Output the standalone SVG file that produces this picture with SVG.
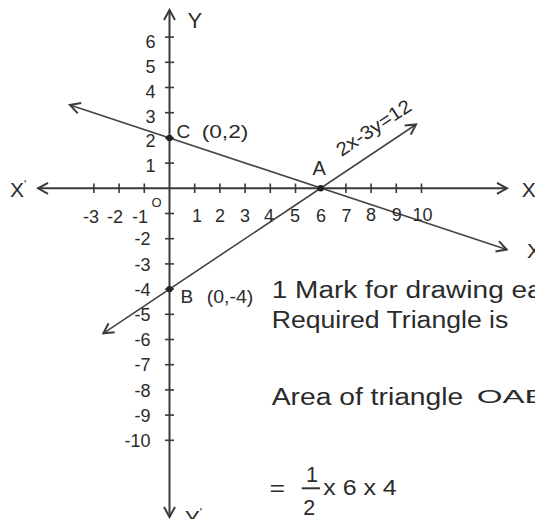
<svg xmlns="http://www.w3.org/2000/svg" width="535" height="519" viewBox="0 0 535 519">
<style>
text{font-family:"Liberation Sans",Arial,sans-serif;fill:#2b2b2b}
.n{font-size:18px}
.yp{text-anchor:end}
.xl{text-anchor:middle}
.big{font-size:23.5px}
.ax{stroke:#3a3a3a;stroke-width:2;fill:none}
.tk{stroke:#3a3a3a;stroke-width:1.6}
.ln{stroke:#444;stroke-width:1.6;fill:none}
</style>
<defs>
<marker id="arr" viewBox="-12 -8 14 16" markerWidth="14" markerHeight="16" refX="0" refY="0" orient="auto-start-reverse" markerUnits="userSpaceOnUse">
<path d="M-10,-5.5 L0,0 L-10,5.5" fill="none" stroke="#3a3a3a" stroke-width="2"/>
</marker>
</defs>
<rect width="535" height="519" fill="#fff"/>

<g id="connectors">
<line class="ax" x1="38" y1="188.3" x2="507" y2="188.3" marker-start="url(#arr)" marker-end="url(#arr)"/>
<line class="ax" x1="169.5" y1="10" x2="169.5" y2="517" marker-start="url(#arr)" marker-end="url(#arr)"/>
<line class="ln" x1="70" y1="105" x2="506.7" y2="249.5" marker-start="url(#arr)" marker-end="url(#arr)"/>
<line class="ln" x1="103.3" y1="333.3" x2="416" y2="124.5" marker-start="url(#arr)" marker-end="url(#arr)"/>
</g>

<g id="ticks">
<g class="tk">
<line x1="165" y1="37.1" x2="174" y2="37.1"/>
<line x1="165" y1="62.3" x2="174" y2="62.3"/>
<line x1="165" y1="87.5" x2="174" y2="87.5"/>
<line x1="165" y1="112.7" x2="174" y2="112.7"/>
<line x1="165" y1="137.9" x2="174" y2="137.9"/>
<line x1="165" y1="163.1" x2="174" y2="163.1"/>
<line x1="165" y1="213.5" x2="174" y2="213.5"/>
<line x1="165" y1="238.7" x2="174" y2="238.7"/>
<line x1="165" y1="263.9" x2="174" y2="263.9"/>
<line x1="165" y1="289.1" x2="174" y2="289.1"/>
<line x1="165" y1="314.3" x2="174" y2="314.3"/>
<line x1="165" y1="339.5" x2="174" y2="339.5"/>
<line x1="165" y1="364.7" x2="174" y2="364.7"/>
<line x1="165" y1="389.9" x2="174" y2="389.9"/>
<line x1="165" y1="415.1" x2="174" y2="415.1"/>
<line x1="165" y1="440.3" x2="174" y2="440.3"/>
<line x1="93.9" y1="183.5" x2="93.9" y2="193"/>
<line x1="119.1" y1="183.5" x2="119.1" y2="193"/>
<line x1="144.3" y1="183.5" x2="144.3" y2="193"/>
<line x1="194.7" y1="183.5" x2="194.7" y2="193"/>
<line x1="219.9" y1="183.5" x2="219.9" y2="193"/>
<line x1="245.1" y1="183.5" x2="245.1" y2="193"/>
<line x1="270.3" y1="183.5" x2="270.3" y2="193"/>
<line x1="295.5" y1="183.5" x2="295.5" y2="193"/>
<line x1="345.9" y1="183.5" x2="345.9" y2="193"/>
<line x1="371.1" y1="183.5" x2="371.1" y2="193"/>
<line x1="396.3" y1="183.5" x2="396.3" y2="193"/>
<line x1="421.5" y1="183.5" x2="421.5" y2="193"/>
</g>
</g>

<g id="y-labels" class="n">
<text class="yp" x="155.5" y="47.5">6</text>
<text class="yp" x="155.5" y="72.5">5</text>
<text class="yp" x="155.5" y="97.8">4</text>
<text class="yp" x="155.5" y="122.7">3</text>
<text class="yp" x="155.5" y="147.2">2</text>
<text class="yp" x="155.5" y="172">1</text>
<text class="yp" x="150.5" y="245.4">-2</text>
<text class="yp" x="150.5" y="270.6">-3</text>
<text class="yp" x="150.5" y="295.8">-4</text>
<text class="yp" x="150.5" y="321">-5</text>
<text class="yp" x="150.5" y="346.2">-6</text>
<text class="yp" x="150.5" y="371.4">-7</text>
<text class="yp" x="150.5" y="396.6">-8</text>
<text class="yp" x="150.5" y="421.8">-9</text>
<text class="yp" x="150.5" y="447">-10</text>
</g>

<g id="x-labels" class="n">
<text class="xl" x="91" y="222.7">-3</text>
<text class="xl" x="115" y="222.7">-2</text>
<text class="xl" x="140" y="222.7">-1</text>
<text class="xl" x="197" y="222">1</text>
<text class="xl" x="220" y="222">2</text>
<text class="xl" x="245" y="222">3</text>
<text class="xl" x="269" y="222">4</text>
<text class="xl" x="295" y="222">5</text>
<text class="xl" x="321" y="222">6</text>
<text class="xl" x="346.5" y="222">7</text>
<text class="xl" x="371" y="221">8</text>
<text class="xl" x="396.7" y="221">9</text>
<text class="xl" x="422.5" y="221">10</text>
<text x="151.5" y="206.5" style="font-size:13px">O</text>
</g>

<g id="axis-names" style="font-size:21px">
<text x="10" y="196.7">X<tspan style="font-size:12px" dy="-8">'</tspan></text>
<text x="521.7" y="196.7">X</text>
<text x="187.5" y="28.3" style="font-size:22px">Y</text>
<text x="185" y="526" style="font-size:22px">Y<tspan style="font-size:12px" dy="-9">'</tspan></text>
<text x="527" y="258">X</text>
</g>

<g id="point-C">
<circle cx="169.5" cy="137.9" r="3.2" fill="#222"/>
<text x="176.5" y="138.3" style="font-size:19px">C</text>
<text x="201.7" y="138.3" style="font-size:19px" textLength="46.6" lengthAdjust="spacingAndGlyphs">(0,2)</text>
</g>

<g id="point-A">
<circle cx="320.7" cy="188.3" r="3.2" fill="#222"/>
<text x="312.5" y="175" style="font-size:20px">A</text>
</g>

<g id="point-B">
<circle cx="169.5" cy="289.1" r="3.2" fill="#222"/>
<text x="180.5" y="303.3" style="font-size:19px">B</text>
<text x="206.7" y="303" style="font-size:19px" textLength="46.6" lengthAdjust="spacingAndGlyphs">(0,-4)</text>
</g>

<g id="line-label">
<text x="341.5" y="157" style="font-size:19px" textLength="86" lengthAdjust="spacingAndGlyphs" transform="rotate(-33.7 341.5 157)">2x-3y=12</text>
</g>

<g id="notes" class="big">
<text x="271.7" y="298.3" textLength="271" lengthAdjust="spacingAndGlyphs">1 Mark for drawing ea</text>
<text x="271.7" y="328.3" textLength="236.6" lengthAdjust="spacingAndGlyphs">Required Triangle is</text>
<text x="271.7" y="404.5" textLength="191.6" lengthAdjust="spacingAndGlyphs">Area of triangle</text>
<text x="476.7" y="403.3" style="font-size:18.5px" textLength="70" lengthAdjust="spacingAndGlyphs">OAB</text>
</g>

<g id="formula" style="font-size:21.5px">
<text x="269.5" y="495.5" textLength="15.5" lengthAdjust="spacingAndGlyphs">=</text>
<text x="306" y="481.7">1</text>
<line x1="301.7" y1="488.3" x2="320" y2="488.3" stroke="#333" stroke-width="2"/>
<text x="303.3" y="515">2</text>
<text x="323.3" y="495" textLength="73.4" lengthAdjust="spacingAndGlyphs">x 6 x 4</text>
</g>
</svg>
